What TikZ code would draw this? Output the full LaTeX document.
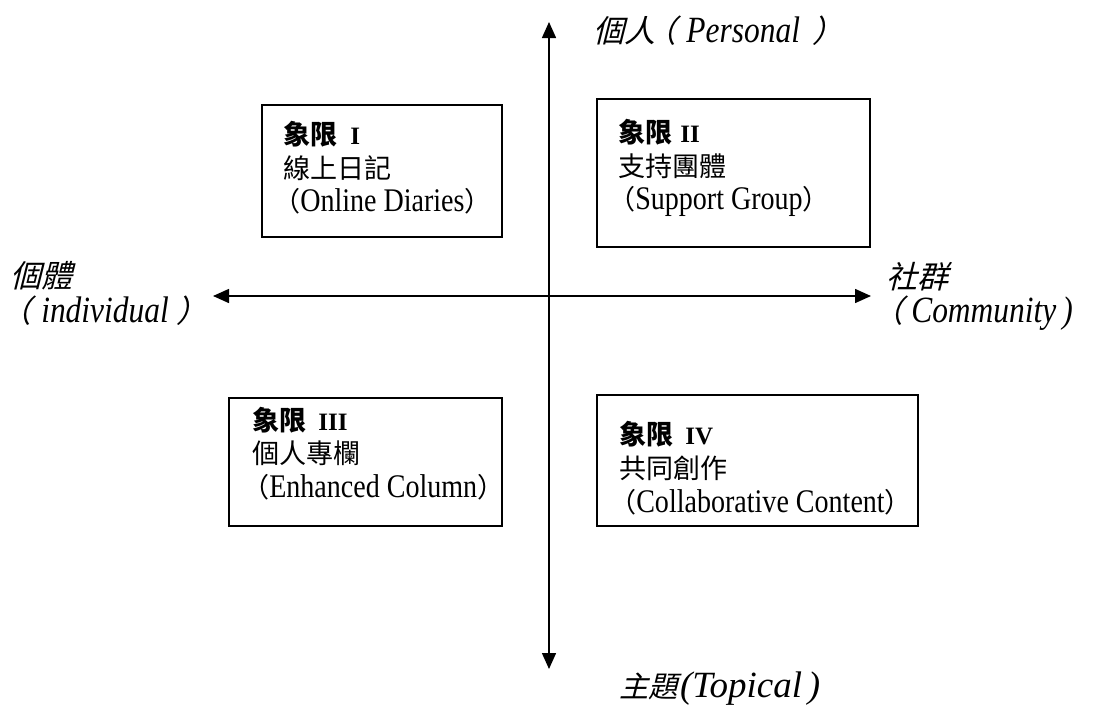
\documentclass[tikz,border=0pt]{standalone}
\usepackage{fontspec}
\usetikzlibrary{arrows.meta}
\setmainfont[FakeStretch=0.85]{Liberation Serif}
\newfontfamily\serifn{Liberation Serif}
\newfontfamily\cjk[Scale=0.82]{Noto Sans CJK TC}
\newfontfamily\cjksl[Scale=0.84,FakeSlant=0.25]{Noto Sans CJK TC}
\newcommand\boxfont{\fontsize{33}{40}\selectfont}
\newcommand\labfont{\fontsize{37}{40}\selectfont\itshape}
\newcommand\qnum[1]{{\serifn\bfseries\fontsize{25}{25}\selectfont #1}}
\tikzset{
  qbox/.style={draw, line width=2pt, inner sep=0pt},
  axis/.style={line width=1.5pt, {Triangle[length=16pt,width=14pt]}-{Triangle[length=16pt,width=14pt]}},
  txt/.style={anchor=base west, inner sep=0pt, font=\boxfont},
  lab/.style={anchor=base west, inner sep=0pt, font=\labfont}
}
\begin{document}
\begin{tikzpicture}[x=1pt,y=-1pt]
\useasboundingbox (0,0) rectangle (1094,704);
% axes
\coordinate (ytop) at (549,22);
\coordinate (ybot) at (549,669);
\coordinate (xl) at (213,296);
\coordinate (xr) at (871,296);
\draw[axis] (ybot) -- (ytop);
\draw[axis] (xl) -- (xr);
% boxes
\node[qbox, minimum width=240pt, minimum height=132pt] (q1) at (382,171) {};
\node[qbox, minimum width=273pt, minimum height=148pt] (q2) at (733.5,173) {};
\node[qbox, minimum width=273pt, minimum height=128pt] (q3) at (365.5,462) {};
\node[qbox, minimum width=321pt, minimum height=131pt] (q4) at (757.5,460.5) {};
% box texts
\node[txt] (q1h) at (283,144) {{\cjk\bfseries 象限}\hspace{13pt}\qnum{I}};
\node[txt] (q1c) at (283,178) {\cjk 線上日記};
\node[txt] (q1e) at (273,211) {{\cjk （}Online Diaries{\cjk ）}};
\node[txt] (q2h) at (618,142) {{\cjk\bfseries 象限}\hspace{8pt}\qnum{II}};
\node[txt] (q2c) at (618,176) {\cjk 支持團體};
\node[txt] (q2e) at (608,209) {{\cjk （}Support Group{\cjk ）}};
\node[txt] (q3h) at (252,430) {{\cjk\bfseries 象限}\hspace{12pt}\qnum{III}};
\node[txt] (q3c) at (252,463) {\cjk 個人專欄};
\node[txt] (q3e) at (242,497) {{\cjk （}Enhanced Column{\cjk ）}};
\node[txt] (q4h) at (619,444) {{\cjk\bfseries 象限}\hspace{12pt}\qnum{IV}};
\node[txt] (q4c) at (619,478) {\cjk 共同創作};
\node[txt] (q4e) at (609,512) {{\cjk （}Collaborative Content{\cjk ）}};
% axis labels
\node[lab] (ltop) at (593,42) {{\cjksl 個人}\hspace{-10pt}{\cjksl （}\hspace{10pt}Personal\hspace{12pt}{\cjksl ）}\hspace{-18pt}};
\node[lab] (lleft1) at (10,287) {\cjksl 個體};
\node[lab] (lleft2) at (0,322) {{\cjksl （}\hspace{10pt}individual\hspace{8pt}{\cjksl ）}\hspace{-18pt}};
\node[lab] (lright1) at (886,288) {\cjksl 社群};
\node[lab] (lright2) at (872,322) {{\cjksl （}\hspace{8pt}Community\hspace{6pt})};
\node[lab] (lbot) at (619,697) {{\fontsize{35}{35}\selectfont\cjksl 主題}\hspace{2pt}{\serifn\fontsize{37}{40}\selectfont\itshape (Topical\hspace{6pt})}};
\end{tikzpicture}
\end{document}
